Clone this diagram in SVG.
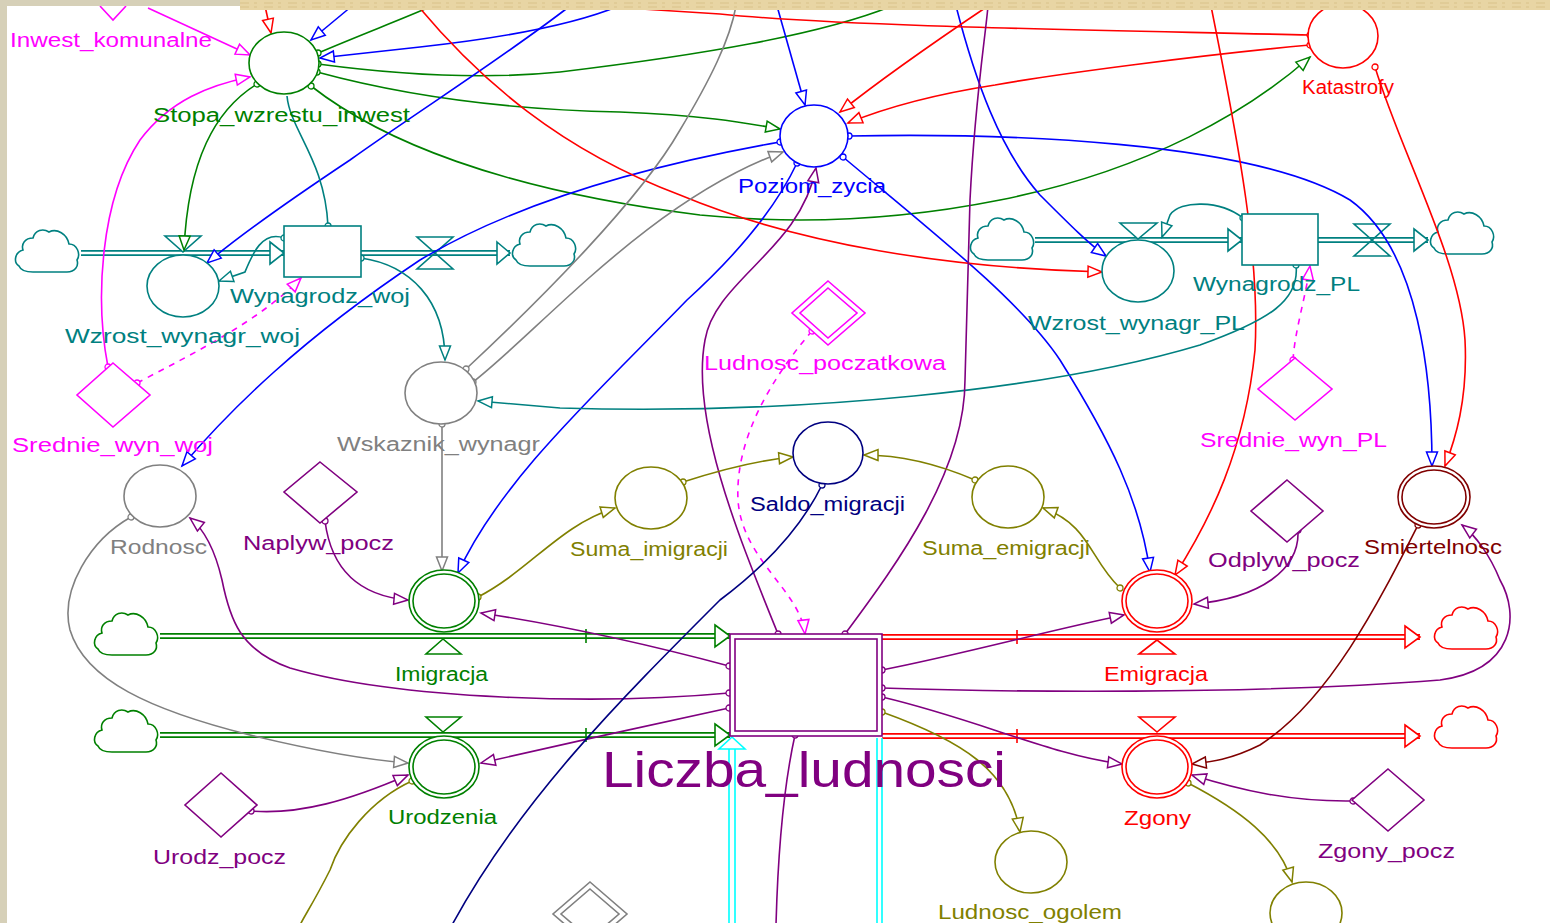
<svg xmlns="http://www.w3.org/2000/svg" xmlns:xlink="http://www.w3.org/1999/xlink" width="1550" height="923" viewBox="0 0 1550 923">
<style>
.l{fill:none;stroke-width:1.6}
.dash{stroke-dasharray:6,6}
.G{stroke:#008000}.B{stroke:#0000ff}.R{stroke:#ff0000}.M{stroke:#ff00ff}.Y{stroke:#808080}.T{stroke:#008080}.P{stroke:#800080}.O{stroke:#808000}.N{stroke:#000080}.D{stroke:#800000}.C{stroke:#00ffff}
.n{fill:#fff;stroke-width:1.6}
.nf{fill:none;stroke-width:1.6}
text{font-family:"Liberation Sans",Arial,sans-serif;font-size:20px}
.tG{fill:#008000}.tB{fill:#0000ff}.tR{fill:#ff0000}.tM{fill:#ff00ff}.tY{fill:#808080}.tT{fill:#008080}.tP{fill:#800080}.tO{fill:#808000}.tN{fill:#000080}.tD{fill:#800000}
</style>
<defs>
<path id="cloud" d="M20,44 L54,44 C62,44 66,38 64,32 C68,26 64,16 56,16 C54,6 44,0 36,4 C30,0 22,2 20,10 C12,10 8,16 10,22 C2,24 0,34 6,38 C8,43 14,44 20,44 Z" fill="#fff" stroke-width="1.6"/>
<marker id="aG" markerUnits="userSpaceOnUse" markerWidth="18" markerHeight="14" refX="16" refY="7" orient="auto" overflow="visible"><path d="M2,1.5 L16,7 L2,12.5 Z" fill="#fff" stroke="#008000" stroke-width="1.5"/></marker>
<marker id="aB" markerUnits="userSpaceOnUse" markerWidth="18" markerHeight="14" refX="16" refY="7" orient="auto" overflow="visible"><path d="M2,1.5 L16,7 L2,12.5 Z" fill="#fff" stroke="#0000ff" stroke-width="1.5"/></marker>
<marker id="aR" markerUnits="userSpaceOnUse" markerWidth="18" markerHeight="14" refX="16" refY="7" orient="auto" overflow="visible"><path d="M2,1.5 L16,7 L2,12.5 Z" fill="#fff" stroke="#ff0000" stroke-width="1.5"/></marker>
<marker id="aM" markerUnits="userSpaceOnUse" markerWidth="18" markerHeight="14" refX="16" refY="7" orient="auto" overflow="visible"><path d="M2,1.5 L16,7 L2,12.5 Z" fill="#fff" stroke="#ff00ff" stroke-width="1.5"/></marker>
<marker id="aY" markerUnits="userSpaceOnUse" markerWidth="18" markerHeight="14" refX="16" refY="7" orient="auto" overflow="visible"><path d="M2,1.5 L16,7 L2,12.5 Z" fill="#fff" stroke="#808080" stroke-width="1.5"/></marker>
<marker id="aT" markerUnits="userSpaceOnUse" markerWidth="18" markerHeight="14" refX="16" refY="7" orient="auto" overflow="visible"><path d="M2,1.5 L16,7 L2,12.5 Z" fill="#fff" stroke="#008080" stroke-width="1.5"/></marker>
<marker id="aP" markerUnits="userSpaceOnUse" markerWidth="18" markerHeight="14" refX="16" refY="7" orient="auto" overflow="visible"><path d="M2,1.5 L16,7 L2,12.5 Z" fill="#fff" stroke="#800080" stroke-width="1.5"/></marker>
<marker id="aO" markerUnits="userSpaceOnUse" markerWidth="18" markerHeight="14" refX="16" refY="7" orient="auto" overflow="visible"><path d="M2,1.5 L16,7 L2,12.5 Z" fill="#fff" stroke="#808000" stroke-width="1.5"/></marker>
<marker id="aD" markerUnits="userSpaceOnUse" markerWidth="18" markerHeight="14" refX="16" refY="7" orient="auto" overflow="visible"><path d="M2,1.5 L16,7 L2,12.5 Z" fill="#fff" stroke="#800000" stroke-width="1.5"/></marker>
<marker id="dG" markerUnits="userSpaceOnUse" markerWidth="8" markerHeight="8" refX="4" refY="4" overflow="visible"><circle cx="4" cy="4" r="3" fill="#fff" stroke="#008000" stroke-width="1.3"/></marker>
<marker id="dB" markerUnits="userSpaceOnUse" markerWidth="8" markerHeight="8" refX="4" refY="4" overflow="visible"><circle cx="4" cy="4" r="3" fill="#fff" stroke="#0000ff" stroke-width="1.3"/></marker>
<marker id="dR" markerUnits="userSpaceOnUse" markerWidth="8" markerHeight="8" refX="4" refY="4" overflow="visible"><circle cx="4" cy="4" r="3" fill="#fff" stroke="#ff0000" stroke-width="1.3"/></marker>
<marker id="dM" markerUnits="userSpaceOnUse" markerWidth="8" markerHeight="8" refX="4" refY="4" overflow="visible"><circle cx="4" cy="4" r="3" fill="#fff" stroke="#ff00ff" stroke-width="1.3"/></marker>
<marker id="dY" markerUnits="userSpaceOnUse" markerWidth="8" markerHeight="8" refX="4" refY="4" overflow="visible"><circle cx="4" cy="4" r="3" fill="#fff" stroke="#808080" stroke-width="1.3"/></marker>
<marker id="dT" markerUnits="userSpaceOnUse" markerWidth="8" markerHeight="8" refX="4" refY="4" overflow="visible"><circle cx="4" cy="4" r="3" fill="#fff" stroke="#008080" stroke-width="1.3"/></marker>
<marker id="dP" markerUnits="userSpaceOnUse" markerWidth="8" markerHeight="8" refX="4" refY="4" overflow="visible"><circle cx="4" cy="4" r="3" fill="#fff" stroke="#800080" stroke-width="1.3"/></marker>
<marker id="dO" markerUnits="userSpaceOnUse" markerWidth="8" markerHeight="8" refX="4" refY="4" overflow="visible"><circle cx="4" cy="4" r="3" fill="#fff" stroke="#808000" stroke-width="1.3"/></marker>
<marker id="dN" markerUnits="userSpaceOnUse" markerWidth="8" markerHeight="8" refX="4" refY="4" overflow="visible"><circle cx="4" cy="4" r="3" fill="#fff" stroke="#000080" stroke-width="1.3"/></marker>
<marker id="dD" markerUnits="userSpaceOnUse" markerWidth="8" markerHeight="8" refX="4" refY="4" overflow="visible"><circle cx="4" cy="4" r="3" fill="#fff" stroke="#800000" stroke-width="1.3"/></marker>
</defs>
<rect x="0" y="0" width="1550" height="923" fill="#fff"/>

<g id="pipes">
  <!-- Wynagrodz_woj pipes -->
  <use href="#cloud" x="13" y="228" stroke="#008080"/>
  <path d="M81,253 L284,253 M361,253 L510,253" stroke="#008080" stroke-width="6" fill="none"/>
  <path d="M81,253 L284,253 M361,253 L510,253" stroke="#fff" stroke-width="2.4" fill="none"/>
  <path d="M270,242 L284,253 L270,264 Z M497,242 L510,253 L497,264 Z" fill="#fff" stroke="#008080" stroke-width="1.6"/>
  <path d="M165,236 L201,236 L183,252 Z" fill="#fff" stroke="#008080" stroke-width="1.6"/>
  <path d="M417,237 L453,237 L417,269 L453,269 Z" fill="none" stroke="#008080" stroke-width="1.6"/>
  <use href="#cloud" x="510" y="222" stroke="#008080"/>
  <!-- Wynagrodz_PL pipes -->
  <use href="#cloud" x="968" y="216" stroke="#008080"/>
  <path d="M1035,240 L1242,240 M1318,240 L1428,240" stroke="#008080" stroke-width="6" fill="none"/>
  <path d="M1035,240 L1242,240 M1318,240 L1428,240" stroke="#fff" stroke-width="2.4" fill="none"/>
  <path d="M1228,229 L1242,240 L1228,251 Z M1414,229 L1428,240 L1414,251 Z" fill="#fff" stroke="#008080" stroke-width="1.6"/>
  <path d="M1120,223 L1157,223 L1138,239 Z" fill="#fff" stroke="#008080" stroke-width="1.6"/>
  <path d="M1354,224 L1390,224 L1354,256 L1390,256 Z" fill="none" stroke="#008080" stroke-width="1.6"/>
  <use href="#cloud" x="1428" y="210" stroke="#008080"/>
  <!-- Imigracja / Urodzenia pipes -->
  <use href="#cloud" x="92" y="611" stroke="#008000"/>
  <use href="#cloud" x="92" y="708" stroke="#008000"/>
  <path d="M160,636 L730,636 M160,735 L730,735" stroke="#008000" stroke-width="6" fill="none"/>
  <path d="M160,636 L730,636 M160,735 L730,735" stroke="#fff" stroke-width="2.4" fill="none"/>
  <path d="M715,625 L730,636 L715,647 Z M715,724 L730,735 L715,746 Z" fill="#fff" stroke="#008000" stroke-width="1.6"/>
  <path d="M586,629 L586,643 M586,728 L586,742" stroke="#008000" stroke-width="1.6"/>
  <path d="M443,639 L426,654 L461,654 Z M426,717 L461,717 L443,732 Z" fill="#fff" stroke="#008000" stroke-width="1.6"/>
  <!-- Emigracja / Zgony pipes -->
  <path d="M882,637 L1420,637 M882,736 L1420,736" stroke="#ff0000" stroke-width="6" fill="none"/>
  <path d="M882,637 L1420,637 M882,736 L1420,736" stroke="#fff" stroke-width="2.4" fill="none"/>
  <path d="M1405,626 L1420,637 L1405,648 Z M1405,725 L1420,736 L1405,747 Z" fill="#fff" stroke="#ff0000" stroke-width="1.6"/>
  <path d="M1017,630 L1017,644 M1017,729 L1017,743" stroke="#ff0000" stroke-width="1.6"/>
  <path d="M1157,640 L1139,654 L1175,654 Z M1139,717 L1175,717 L1157,732 Z" fill="#fff" stroke="#ff0000" stroke-width="1.6"/>
  <use href="#cloud" x="1432" y="605" stroke="#ff0000"/>
  <use href="#cloud" x="1432" y="704" stroke="#ff0000"/>
  <!-- cyan -->
  <path d="M729,748 L729,923 M735,748 L735,923 M877,738 L877,923 M882,738 L882,923" class="l C"/>
  <path d="M732,737 L719,749 L745,749 Z" fill="#fff" stroke="#00ffff" stroke-width="1.6"/>
</g>

<g id="connectors">
  <!-- green -->
  <path class="l G" marker-start="url(#dG)" d="M318,53 C360,35 400,20 432,6"/>
  <path class="l G" marker-start="url(#dG)" d="M318,64 C400,75 480,80 560,72 C700,55 820,35 892,6"/>
  <path class="l G" marker-start="url(#dG)" marker-end="url(#aG)" d="M317,72 C420,100 520,110 620,112 C700,115 740,122 780,129"/>
  <path class="l G" marker-start="url(#dG)" marker-end="url(#aG)" d="M311,86 C380,140 500,190 700,215 C800,225 900,220 1000,200 C1150,170 1250,110 1310,57"/>
  <path class="l G" marker-start="url(#dG)" marker-end="url(#aG)" d="M257,84 C215,110 188,160 184,250"/>
  <!-- blue -->
  <path class="l B" marker-end="url(#aB)" d="M352,6 L311,40"/>
  <path class="l B" marker-end="url(#aB)" d="M619,6 C580,22 520,36 420,47 L320,58"/>
  <path class="l B" marker-end="url(#aB)" d="M570,6 C500,60 420,110 350,160 C290,200 240,235 207,263"/>
  <path class="l B" marker-end="url(#aB)" d="M777,6 L805,105"/>
  <path class="l B" marker-end="url(#aB)" d="M956,6 C975,80 1000,150 1040,195 C1070,225 1090,245 1106,256"/>
  <path class="l B" marker-start="url(#dB)" marker-end="url(#aB)" d="M849,136 C1000,133 1250,140 1350,200 C1420,250 1432,380 1432,466"/>
  <path class="l B" marker-start="url(#dB)" marker-end="url(#aB)" d="M843,157 C930,230 1020,300 1060,360 C1110,440 1140,500 1150,572"/>
  <path class="l B" marker-start="url(#dB)" marker-end="url(#aB)" d="M797,163 C770,220 720,270 687,300 C600,390 500,480 458,573"/>
  <path class="l B" marker-start="url(#dB)" marker-end="url(#aB)" d="M780,142 C650,165 520,200 420,260 C300,340 230,410 182,466"/>
  <!-- red -->
  <path class="l R" marker-end="url(#aR)" d="M265,6 L271,33"/>
  <path class="l R" marker-start="url(#dR)" d="M1310,35 C1100,30 850,27 720,14 L610,7"/>
  <path class="l R" marker-start="url(#dR)" marker-end="url(#aR)" d="M1310,45 C1200,55 1050,75 995,85 C930,95 880,110 848,123"/>
  <path class="l R" marker-end="url(#aR)" d="M988,6 C930,45 880,80 840,112"/>
  <path class="l R" marker-end="url(#aR)" d="M418,6 C480,80 560,150 680,195 C800,245 950,268 1102,272"/>
  <path class="l R" marker-start="url(#dR)" marker-end="url(#aR)" d="M1375,67 C1400,150 1460,260 1465,340 C1468,400 1455,440 1445,466"/>
  <path class="l R" marker-end="url(#aR)" d="M1211,6 C1240,150 1260,260 1255,350 C1245,450 1210,520 1175,575"/>
  <!-- magenta -->
  <path class="l M" marker-end="url(#aM)" d="M148,8 L250,55"/>
  <path class="l M" marker-start="url(#dM)" marker-end="url(#aM)" d="M108,367 C95,300 100,200 140,140 C170,100 210,85 250,77"/>
  <path class="l M dash" marker-start="url(#dM)" marker-end="url(#aM)" d="M137,383 C200,350 260,320 301,278"/>
  <path class="l M dash" marker-start="url(#dM)" marker-end="url(#aM)" d="M812,331 C770,380 735,440 738,500 C742,560 800,590 805,634"/>
  <path class="l M dash" marker-start="url(#dM)" marker-end="url(#aM)" d="M1293,360 C1295,330 1305,300 1310,266"/>
  <!-- gray -->
  <path class="l Y" marker-start="url(#dY)" marker-end="url(#aY)" d="M473,382 C540,330 650,200 783,152"/>
  <path class="l Y" marker-start="url(#dY)" d="M466,369 C540,300 640,200 680,130 C710,80 730,40 736,6"/>
  <path class="l Y" marker-start="url(#dY)" marker-end="url(#aY)" d="M442,424 L442,571"/>
  <path class="l Y" marker-start="url(#dY)" marker-end="url(#aY)" d="M131,517 C90,540 60,590 70,630 C85,680 150,710 250,735 C320,752 370,760 408,763"/>
  <!-- teal -->
  <path class="l T" marker-start="url(#dT)" d="M328,226 C325,160 290,130 287,96"/>
  <path class="l T" marker-start="url(#dT)" marker-end="url(#aT)" d="M361,258 C410,265 445,300 445,360"/>
  <path class="l T" marker-start="url(#dT)" marker-end="url(#aT)" d="M1296,265 C1300,300 1270,320 1200,345 C1050,390 800,415 560,408 L478,401"/>
  <path class="l T" marker-start="url(#dT)" marker-end="url(#aT)" d="M284,238 C262,230 252,255 245,272 L219,281"/>
  <path class="l T" marker-start="url(#dT)" marker-end="url(#aT)" d="M1243,218 C1220,200 1180,200 1170,215 L1162,237"/>
  <!-- purple -->
  <path class="l P" marker-start="url(#dP)" marker-end="url(#aP)" d="M778,634 C740,540 690,420 705,340 C715,280 800,250 816,168"/>
  <path class="l P" marker-start="url(#dP)" d="M845,634 C900,560 965,470 965,380 L970,200 C975,100 985,40 988,6"/>
  <path class="l P" marker-start="url(#dP)" marker-end="url(#aP)" d="M729,666 C650,645 560,625 481,613"/>
  <path class="l P" marker-start="url(#dP)" marker-end="url(#aP)" d="M729,693 C600,705 400,700 290,668 C240,650 230,620 222,580 C215,550 205,530 190,518"/>
  <path class="l P" marker-start="url(#dP)" marker-end="url(#aP)" d="M729,708 C650,725 560,745 481,763"/>
  <path class="l P" marker-start="url(#dP)" marker-end="url(#aP)" d="M882,670 C960,655 1050,630 1124,615"/>
  <path class="l P" marker-start="url(#dP)" marker-end="url(#aP)" d="M882,688 C1000,692 1250,695 1440,680 C1515,670 1520,615 1500,580 C1490,555 1475,535 1462,525"/>
  <path class="l P" marker-start="url(#dP)" marker-end="url(#aP)" d="M882,697 C980,720 1050,755 1122,764"/>
  <path class="l P" marker-start="url(#dP)" d="M795,735 C785,780 778,850 776,925"/>
  <path class="l P" marker-start="url(#dP)" marker-end="url(#aP)" d="M325,521 C330,560 350,595 408,600"/>
  <path class="l P" marker-start="url(#dP)" marker-end="url(#aP)" d="M1298,530 C1300,570 1260,598 1194,604"/>
  <path class="l P" marker-start="url(#dP)" marker-end="url(#aP)" d="M251,811 C300,815 350,800 408,775"/>
  <path class="l P" marker-start="url(#dP)" marker-end="url(#aP)" d="M1353,801 C1290,802 1240,790 1192,775"/>
  <!-- olive -->
  <path class="l O" marker-start="url(#dO)" marker-end="url(#aO)" d="M478,597 C530,570 560,525 615,508"/>
  <path class="l O" marker-start="url(#dO)" marker-end="url(#aO)" d="M683,482 C720,470 760,460 793,457"/>
  <path class="l O" marker-start="url(#dO)" marker-end="url(#aO)" d="M975,480 C940,465 900,455 864,455"/>
  <path class="l O" marker-start="url(#dO)" marker-end="url(#aO)" d="M1120,588 C1090,560 1090,525 1043,508"/>
  <path class="l O" marker-start="url(#dO)" marker-end="url(#aO)" d="M882,712 C960,740 1010,770 1020,832"/>
  <path class="l O" marker-start="url(#dO)" marker-end="url(#aO)" d="M1188,783 C1240,810 1280,840 1292,882"/>
  <path class="l O" marker-start="url(#dO)" d="M412,781 C370,800 340,840 330,870 C315,900 305,915 300,925"/>
  <!-- navy -->
  <path class="l N" marker-start="url(#dN)" d="M822,485 C800,530 760,570 720,600 C620,700 520,800 452,925"/>
  <!-- dark red -->
  <path class="l D" marker-start="url(#dD)" marker-end="url(#aD)" d="M1418,525 C1380,600 1330,700 1260,745 C1230,760 1210,762 1192,764"/>
</g>

<g id="Inwest_komunalne">
  <path d="M100,6 L113,20 L126,6" class="nf M"/>
  <text x="10" y="47" class="tM" textLength="202" lengthAdjust="spacingAndGlyphs">Inwest_komunalne</text>
</g>
<g id="Stopa_wzrestu_inwest">
  <ellipse cx="284" cy="63" rx="35" ry="31" class="n G"/>
  <text x="153" y="122" class="tG" textLength="257" lengthAdjust="spacingAndGlyphs">Stopa_wzrestu_inwest</text>
</g>
<g id="Poziom_zycia">
  <ellipse cx="814" cy="136" rx="34" ry="31" class="n B"/>
  <text x="738" y="193" class="tB" textLength="148" lengthAdjust="spacingAndGlyphs">Poziom_zycia</text>
</g>
<g id="Katastrofy">
  <ellipse cx="1343" cy="36" rx="35" ry="32" class="n R"/>
  <text x="1302" y="94" class="tR" textLength="92" lengthAdjust="spacingAndGlyphs">Katastrofy</text>
</g>
<g id="Wynagrodz_woj">
  <rect x="284" y="226" width="77" height="51" class="n T"/>
  <text x="230" y="303" class="tT" textLength="180" lengthAdjust="spacingAndGlyphs">Wynagrodz_woj</text>
</g>
<g id="Wzrost_wynagr_woj">
  <ellipse cx="183" cy="286" rx="36" ry="31" class="n T"/>
  <text x="65" y="343" class="tT" textLength="235" lengthAdjust="spacingAndGlyphs">Wzrost_wynagr_woj</text>
</g>
<g id="Wynagrodz_PL">
  <rect x="1242" y="214" width="76" height="51" class="n T"/>
  <text x="1193" y="291" class="tT" textLength="167" lengthAdjust="spacingAndGlyphs">Wynagrodz_PL</text>
</g>
<g id="Wzrost_wynagr_PL">
  <ellipse cx="1138" cy="271" rx="36" ry="31" class="n T"/>
  <text x="1028" y="330" class="tT" textLength="217" lengthAdjust="spacingAndGlyphs">Wzrost_wynagr_PL</text>
</g>
<g id="Wskaznik_wynagr">
  <ellipse cx="441" cy="393" rx="36" ry="31" class="n Y"/>
  <text x="337" y="451" class="tY" textLength="203" lengthAdjust="spacingAndGlyphs">Wskaznik_wynagr</text>
</g>
<g id="Srednie_wyn_woj">
  <path d="M113,363 L150,395 L113,427 L77,395 Z" class="n M"/>
  <text x="12" y="452" class="tM" textLength="201" lengthAdjust="spacingAndGlyphs">Srednie_wyn_woj</text>
</g>
<g id="Ludnosc_poczatkowa">
  <path d="M828,281 L865,313 L828,345 L792,313 Z" class="n M"/>
  <path d="M828,288 L857,313 L828,338 L800,313 Z" class="nf M"/>
  <text x="704" y="370" class="tM" textLength="242" lengthAdjust="spacingAndGlyphs">Ludnosc_poczatkowa</text>
</g>
<g id="Srednie_wyn_PL">
  <path d="M1295,358 L1332,389 L1295,420 L1258,389 Z" class="n M"/>
  <text x="1200" y="447" class="tM" textLength="187" lengthAdjust="spacingAndGlyphs">Srednie_wyn_PL</text>
</g>
<g id="Rodnosc">
  <ellipse cx="160" cy="496" rx="36" ry="31" class="n Y"/>
  <text x="110" y="554" class="tY" textLength="97" lengthAdjust="spacingAndGlyphs">Rodnosc</text>
</g>
<g id="Naplyw_pocz">
  <path d="M320,462 L357,492 L320,523 L284,492 Z" class="n P"/>
  <text x="243" y="550" class="tP" textLength="151" lengthAdjust="spacingAndGlyphs">Naplyw_pocz</text>
</g>
<g id="Saldo_migracji">
  <ellipse cx="828" cy="453" rx="35" ry="31" class="n N"/>
  <text x="750" y="511" class="tN" textLength="155" lengthAdjust="spacingAndGlyphs">Saldo_migracji</text>
</g>
<g id="Suma_imigracji">
  <ellipse cx="651" cy="498" rx="36" ry="31" class="n O"/>
  <text x="570" y="556" class="tO" textLength="158" lengthAdjust="spacingAndGlyphs">Suma_imigracji</text>
</g>
<g id="Suma_emigracji">
  <ellipse cx="1008" cy="497" rx="36" ry="31" class="n O"/>
  <text x="922" y="555" class="tO" textLength="168" lengthAdjust="spacingAndGlyphs">Suma_emigracji</text>
</g>
<g id="Odplyw_pocz">
  <path d="M1287,480 L1323,511 L1287,542 L1251,511 Z" class="n P"/>
  <text x="1208" y="567" class="tP" textLength="152" lengthAdjust="spacingAndGlyphs">Odplyw_pocz</text>
</g>
<g id="Smiertelnosc">
  <ellipse cx="1434" cy="497" rx="36" ry="31" class="n D"/>
  <ellipse cx="1434" cy="497" rx="32" ry="27" class="nf D"/>
  <text x="1364" y="554" class="tD" textLength="138" lengthAdjust="spacingAndGlyphs">Smiertelnosc</text>
</g>
<g id="Imigracja">
  <ellipse cx="444" cy="601" rx="35" ry="31" class="n G"/>
  <ellipse cx="444" cy="601" rx="31" ry="27" class="nf G"/>
  <text x="395" y="681" class="tG" textLength="93" lengthAdjust="spacingAndGlyphs">Imigracja</text>
</g>
<g id="Urodzenia">
  <ellipse cx="444" cy="767" rx="35" ry="31" class="n G"/>
  <ellipse cx="444" cy="767" rx="31" ry="27" class="nf G"/>
  <text x="388" y="824" class="tG" textLength="109" lengthAdjust="spacingAndGlyphs">Urodzenia</text>
</g>
<g id="Emigracja">
  <ellipse cx="1157" cy="601" rx="35" ry="31" class="n R"/>
  <ellipse cx="1157" cy="601" rx="31" ry="27" class="nf R"/>
  <text x="1104" y="681" class="tR" textLength="104" lengthAdjust="spacingAndGlyphs">Emigracja</text>
</g>
<g id="Zgony">
  <ellipse cx="1157" cy="767" rx="35" ry="31" class="n R"/>
  <ellipse cx="1157" cy="767" rx="31" ry="27" class="nf R"/>
  <text x="1124" y="825" class="tR" textLength="67" lengthAdjust="spacingAndGlyphs">Zgony</text>
</g>
<g id="Liczba_ludnosci">
  <rect x="730" y="634" width="152" height="102" class="n P"/>
  <rect x="735" y="639" width="142" height="92" class="nf P"/>
  <text x="602" y="787" class="tP" style="font-size:50px" textLength="404" lengthAdjust="spacingAndGlyphs">Liczba_ludnosci</text>
</g>
<g id="Urodz_pocz">
  <path d="M221,773 L257,805 L221,837 L185,805 Z" class="n P"/>
  <text x="153" y="864" class="tP" textLength="133" lengthAdjust="spacingAndGlyphs">Urodz_pocz</text>
</g>
<g id="Zgony_pocz">
  <path d="M1388,769 L1424,800 L1388,831 L1352,800 Z" class="n P"/>
  <text x="1318" y="858" class="tP" textLength="137" lengthAdjust="spacingAndGlyphs">Zgony_pocz</text>
</g>
<g id="Ludnosc_ogolem">
  <ellipse cx="1031" cy="862" rx="36" ry="31" class="n O"/>
  <text x="938" y="919" class="tO" textLength="184" lengthAdjust="spacingAndGlyphs">Ludnosc_ogolem</text>
</g>
<g id="olive_bottom">
  <ellipse cx="1306" cy="913" rx="36" ry="31" class="n O"/>
</g>
<g id="gray_diamond_bottom">
  <path d="M590,882 L627,914 L590,946 L553,914 Z" class="n Y"/>
  <path d="M590,889 L619,914 L590,939 L561,914 Z" class="nf Y"/>
</g>

<g id="frame">
  <rect x="0" y="0" width="7" height="923" fill="#d6d0b8"/>
  <rect x="0" y="0" width="242" height="6" fill="#d6d0b8"/>
  <rect x="240" y="0" width="1310" height="10" fill="#e8d5a4"/>
  <path d="M240,3 L1550,3 M240,7 L1550,7" stroke="#d9c28a" stroke-width="1" stroke-dasharray="9,5,3,7"/>
</g>
</svg>
